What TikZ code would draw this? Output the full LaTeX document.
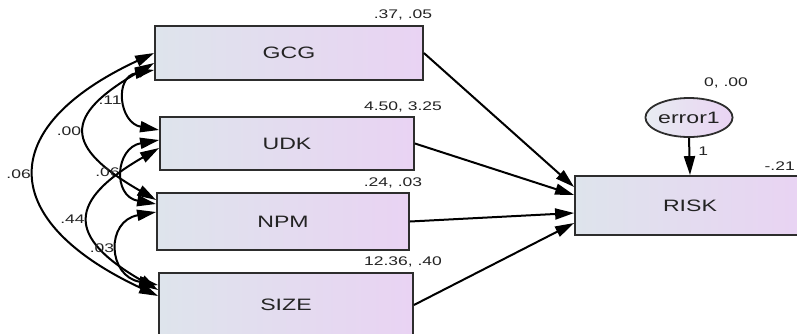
\documentclass[tikz,border=0pt]{standalone}
\usepackage{fontspec}
\setmainfont{Liberation Sans}[FakeStretch=1.4]
\usetikzlibrary{arrows.meta,positioning,calc,shapes.geometric}

\definecolor{boxleft}{RGB}{222,228,236}
\definecolor{boxright}{RGB}{233,211,243}
\definecolor{edgegray}{RGB}{45,45,45}
\definecolor{textgray}{RGB}{35,35,35}

\tikzset{
  obs/.style={draw=edgegray, line width=1.8pt, left color=boxleft, right color=boxright,
    text=textgray, font=\fontsize{16.5}{18}\selectfont, inner sep=0pt},
  err/.style={ellipse, draw=edgegray, line width=1.8pt, left color=boxleft!70!white,
    right color=boxright, text=textgray, font=\fontsize{16.5}{18}\selectfont,
    minimum width=70pt, minimum height=39pt, inner sep=0pt},
  est/.style={text=textgray, font=\fontsize{12.5}{14}\selectfont, inner sep=0pt},
  cov/.style={<->, line width=2pt},
  reg/.style={->, line width=2pt},
}

\begin{document}
\begin{tikzpicture}[x=1pt,y=-1pt,>={Triangle[length=19pt,width=11pt]}]
  \useasboundingbox (0,0) rectangle (797,333);
  \clip (0,0) rectangle (797,333);

  % observed variables
  \node[obs, minimum width=268pt, minimum height=54pt] (gcg)  at (289,53)    {GCG};
  \node[obs, minimum width=254pt, minimum height=53pt] (udk)  at (287,143.5) {UDK};
  \node[obs, minimum width=252pt, minimum height=57pt] (npm)  at (283,221.5) {NPM};
  \node[obs, minimum width=254pt, minimum height=64pt] (size) at (286,305)   {SIZE};
  \node[obs, minimum width=230pt, minimum height=59pt] (risk) at (690,205.5) {RISK};
  \node[err] (error1) at (689,117.5) {error1};

  % means and variances
  \node[est] (gcgest)  at (403,15)  {.37, .05};
  \node[est] (udkest)  at (403,107) {4.50, 3.25};
  \node[est] (npmest)  at (393,183) {.24, .03};
  \node[est] (sizeest) at (403,262) {12.36, .40};
  \node[est] (errest)  at (726,83)  {0, .00};
  \node[est, anchor=east] (riskest) at (795,166) {-.21};

  % covariances
  \draw[cov] ([yshift=-17pt]gcg.west) to[out=190,in=170,looseness=1.73]
    node[est,midway,left=4pt] {.11} ([yshift=13.5pt]udk.west);
  \draw[cov] ([yshift=-10pt]gcg.west) to[out=210,in=150,looseness=1.98]
    node[est,midway,left=4pt] {.00} ([yshift=21.5pt]npm.west);
  \draw[cov] (gcg.west) to[out=205,in=155,looseness=1.86]
    node[est,midway,left=4pt] {.06} ([yshift=9pt]size.west);
  \draw[cov] ([yshift=3.5pt]udk.west) to[out=190,in=170,looseness=1.78]
    node[est,midway,left=4pt] {.06} ([yshift=17.5pt]npm.west);
  \draw[cov] ([yshift=-4.5pt]udk.west) to[out=210,in=150,looseness=1.91]
    node[est,midway,left=4pt] {.44} ([yshift=15pt]size.west);
  \draw[cov] ([yshift=9.5pt]npm.west) to[out=190,in=170,looseness=1.8]
    node[est,midway,left=4pt] {.03} ([yshift=20pt]size.west);

  % regression paths
  \draw[reg] (gcg.east)  -- ([yshift=18.5pt]risk.west);
  \draw[reg] (udk.east)  -- ([yshift=10.5pt]risk.west);
  \draw[reg] (npm.east)  -- ([yshift=-7.5pt]risk.west);
  \draw[reg] (size.east) -- ([yshift=-17.5pt]risk.west);
  \draw[reg] (error1.south) -- node[est,pos=0.35,right=8pt] {1} (risk.north);
\end{tikzpicture}
\end{document}
